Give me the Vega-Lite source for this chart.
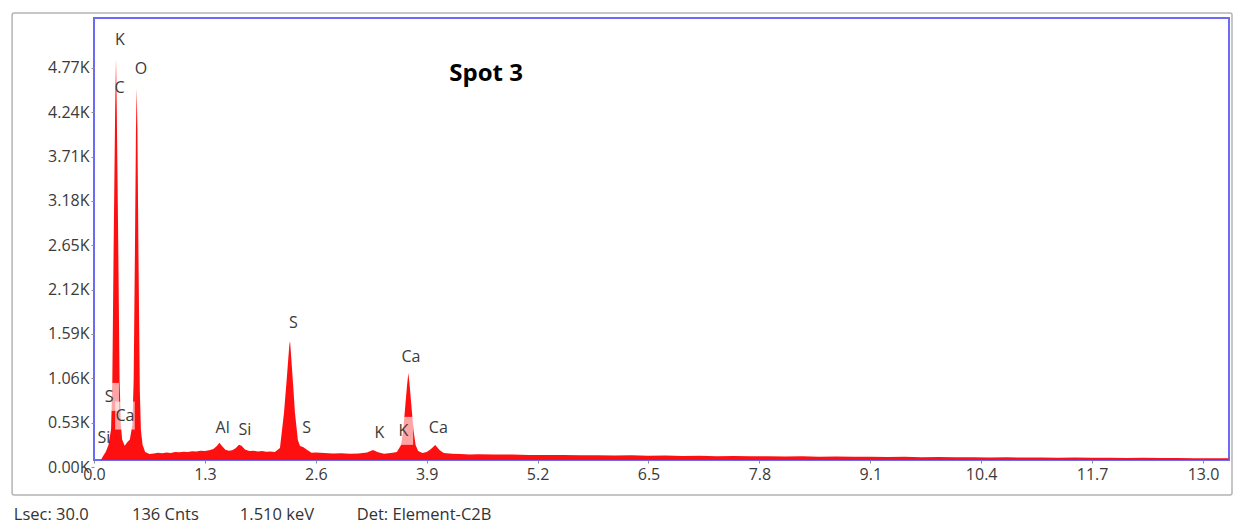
{
  "$schema": "https://vega.github.io/schema/vega-lite/v6.json",
  "autosize": "none",
  "width": 1135,
  "height": 442,
  "padding": {"left": 94, "top": 18, "right": 6, "bottom": 64},
  "background": "white",
  "config": {
    "view": {"stroke": "#6b6bf7", "strokeWidth": 2},
    "font": "Open Sans",
    "axis": {
      "labelFont": "Open Sans",
      "labelFontSize": 16,
      "labelColor": "#3a3a3a",
      "tickColor": "#8a8a8a",
      "tickSize": 3,
      "domain": false,
      "grid": false,
      "labelOverlap": false,
      "labelFlush": false
    }
  },
  "datasets": {
    "spectrum": [
      {"keV": 0.05, "cnt": 0}, {"keV": 0.07, "cnt": 60}, {"keV": 0.10, "cnt": 120},
      {"keV": 0.14, "cnt": 185}, {"keV": 0.17, "cnt": 265}, {"keV": 0.20, "cnt": 450},
      {"keV": 0.215, "cnt": 1040}, {"keV": 0.23, "cnt": 2594}, {"keV": 0.248, "cnt": 4268},
      {"keV": 0.258, "cnt": 4878}, {"keV": 0.267, "cnt": 4268}, {"keV": 0.285, "cnt": 2594},
      {"keV": 0.30, "cnt": 1040}, {"keV": 0.315, "cnt": 502}, {"keV": 0.33, "cnt": 330},
      {"keV": 0.36, "cnt": 255}, {"keV": 0.39, "cnt": 295}, {"keV": 0.42, "cnt": 330},
      {"keV": 0.45, "cnt": 502}, {"keV": 0.465, "cnt": 1040}, {"keV": 0.48, "cnt": 2594},
      {"keV": 0.492, "cnt": 4029}, {"keV": 0.50, "cnt": 4531}, {"keV": 0.509, "cnt": 4029},
      {"keV": 0.522, "cnt": 2475}, {"keV": 0.537, "cnt": 920}, {"keV": 0.55, "cnt": 442},
      {"keV": 0.57, "cnt": 263}, {"keV": 0.60, "cnt": 180}, {"keV": 0.65, "cnt": 155},
      {"keV": 0.70, "cnt": 160}, {"keV": 0.75, "cnt": 170}, {"keV": 0.80, "cnt": 165},
      {"keV": 0.85, "cnt": 172}, {"keV": 0.90, "cnt": 168}, {"keV": 0.95, "cnt": 178},
      {"keV": 1.00, "cnt": 175}, {"keV": 1.05, "cnt": 182}, {"keV": 1.10, "cnt": 178},
      {"keV": 1.15, "cnt": 188}, {"keV": 1.20, "cnt": 185}, {"keV": 1.25, "cnt": 195},
      {"keV": 1.30, "cnt": 190}, {"keV": 1.35, "cnt": 200}, {"keV": 1.40, "cnt": 215},
      {"keV": 1.44, "cnt": 250}, {"keV": 1.47, "cnt": 290}, {"keV": 1.50, "cnt": 250},
      {"keV": 1.54, "cnt": 205}, {"keV": 1.58, "cnt": 195}, {"keV": 1.62, "cnt": 200},
      {"keV": 1.66, "cnt": 225}, {"keV": 1.70, "cnt": 265}, {"keV": 1.73, "cnt": 255},
      {"keV": 1.77, "cnt": 210}, {"keV": 1.82, "cnt": 190}, {"keV": 1.87, "cnt": 195},
      {"keV": 1.92, "cnt": 185}, {"keV": 1.97, "cnt": 190}, {"keV": 2.02, "cnt": 182},
      {"keV": 2.07, "cnt": 185}, {"keV": 2.12, "cnt": 178}, {"keV": 2.18, "cnt": 227},
      {"keV": 2.227, "cnt": 646}, {"keV": 2.263, "cnt": 1100}, {"keV": 2.29, "cnt": 1460},
      {"keV": 2.298, "cnt": 1506}, {"keV": 2.31, "cnt": 1340}, {"keV": 2.333, "cnt": 1000},
      {"keV": 2.356, "cnt": 646}, {"keV": 2.39, "cnt": 323}, {"keV": 2.415, "cnt": 251},
      {"keV": 2.45, "cnt": 240}, {"keV": 2.50, "cnt": 203}, {"keV": 2.55, "cnt": 170},
      {"keV": 2.60, "cnt": 172}, {"keV": 2.70, "cnt": 166}, {"keV": 2.80, "cnt": 160},
      {"keV": 2.90, "cnt": 163}, {"keV": 3.00, "cnt": 157}, {"keV": 3.10, "cnt": 160},
      {"keV": 3.20, "cnt": 172}, {"keV": 3.27, "cnt": 203}, {"keV": 3.33, "cnt": 176},
      {"keV": 3.40, "cnt": 158}, {"keV": 3.45, "cnt": 165}, {"keV": 3.50, "cnt": 170},
      {"keV": 3.55, "cnt": 180}, {"keV": 3.60, "cnt": 263}, {"keV": 3.625, "cnt": 442},
      {"keV": 3.65, "cnt": 741}, {"keV": 3.67, "cnt": 980}, {"keV": 3.685, "cnt": 1124},
      {"keV": 3.70, "cnt": 980}, {"keV": 3.72, "cnt": 741}, {"keV": 3.745, "cnt": 442},
      {"keV": 3.77, "cnt": 263}, {"keV": 3.80, "cnt": 191}, {"keV": 3.85, "cnt": 167},
      {"keV": 3.90, "cnt": 179}, {"keV": 3.95, "cnt": 215}, {"keV": 4.00, "cnt": 263},
      {"keV": 4.05, "cnt": 203}, {"keV": 4.10, "cnt": 167}, {"keV": 4.20, "cnt": 158},
      {"keV": 4.30, "cnt": 155}, {"keV": 4.40, "cnt": 150}, {"keV": 4.50, "cnt": 152},
      {"keV": 4.70, "cnt": 148}, {"keV": 4.90, "cnt": 150}, {"keV": 5.10, "cnt": 145},
      {"keV": 5.30, "cnt": 143}, {"keV": 5.50, "cnt": 145}, {"keV": 5.70, "cnt": 140},
      {"keV": 5.90, "cnt": 142}, {"keV": 6.10, "cnt": 138}, {"keV": 6.30, "cnt": 140},
      {"keV": 6.50, "cnt": 136}, {"keV": 6.70, "cnt": 138}, {"keV": 6.90, "cnt": 133},
      {"keV": 7.10, "cnt": 135}, {"keV": 7.30, "cnt": 130}, {"keV": 7.50, "cnt": 133},
      {"keV": 7.70, "cnt": 128}, {"keV": 7.90, "cnt": 130}, {"keV": 8.10, "cnt": 126},
      {"keV": 8.30, "cnt": 128}, {"keV": 8.50, "cnt": 124}, {"keV": 8.70, "cnt": 126},
      {"keV": 8.90, "cnt": 122}, {"keV": 9.10, "cnt": 124}, {"keV": 9.30, "cnt": 120},
      {"keV": 9.50, "cnt": 122}, {"keV": 9.70, "cnt": 118}, {"keV": 9.90, "cnt": 120},
      {"keV": 10.10, "cnt": 116}, {"keV": 10.30, "cnt": 118}, {"keV": 10.50, "cnt": 115},
      {"keV": 10.70, "cnt": 116}, {"keV": 10.90, "cnt": 113}, {"keV": 11.10, "cnt": 115},
      {"keV": 11.30, "cnt": 112}, {"keV": 11.50, "cnt": 113}, {"keV": 11.70, "cnt": 110},
      {"keV": 11.90, "cnt": 112}, {"keV": 12.10, "cnt": 109}, {"keV": 12.30, "cnt": 110},
      {"keV": 12.50, "cnt": 107}, {"keV": 12.70, "cnt": 108}, {"keV": 12.90, "cnt": 105},
      {"keV": 13.10, "cnt": 106}, {"keV": 13.30, "cnt": 104}
    ],
    "peaks": [
      {"element": "K", "keV": 0.305, "cnt": 5105, "boxed": false},
      {"element": "O", "keV": 0.551, "cnt": 4760, "boxed": false},
      {"element": "C", "keV": 0.298, "cnt": 4531, "boxed": false},
      {"element": "S", "keV": 0.178, "cnt": 838, "boxed": true},
      {"element": "Ca", "keV": 0.363, "cnt": 615, "boxed": true},
      {"element": "Si", "keV": 0.117, "cnt": 347, "boxed": false},
      {"element": "Al", "keV": 1.508, "cnt": 465, "boxed": false},
      {"element": "Si", "keV": 1.770, "cnt": 443, "boxed": false},
      {"element": "S", "keV": 2.337, "cnt": 1717, "boxed": false},
      {"element": "S", "keV": 2.493, "cnt": 465, "boxed": false},
      {"element": "K", "keV": 3.345, "cnt": 402, "boxed": false},
      {"element": "K", "keV": 3.626, "cnt": 432, "boxed": true},
      {"element": "Ca", "keV": 3.716, "cnt": 1311, "boxed": false},
      {"element": "Ca", "keV": 4.036, "cnt": 465, "boxed": false}
    ],
    "footer": [
      {"item": "Lsec: 30.0", "at": -0.94},
      {"item": "136 Cnts", "at": 0.445},
      {"item": "1.510 keV", "at": 1.71},
      {"item": "Det: Element-C2B", "at": 3.08}
    ]
  },
  "encoding": {
    "x": {
      "type": "quantitative",
      "scale": {"domain": [-0.96, 13.34], "range": [-81.9, 1138.0], "nice": false, "zero": false},
      "axis": {
        "title": null,
        "values": [0, 1.3, 2.6, 3.9, 5.2, 6.5, 7.8, 9.1, 10.4, 11.7, 13.0],
        "format": ".1f",
        "labelPadding": 3
      }
    },
    "y": {
      "type": "quantitative",
      "scale": {"domain": [-700, 5440], "range": [507.56, -6.06], "nice": false, "zero": false},
      "axis": {
        "title": null,
        "values": [0, 530, 1060, 1590, 2120, 2650, 3180, 3710, 4240, 4770],
        "labelExpr": "format(datum.value / 1000, '.2f') + 'K'",
        "labelPadding": 2
      }
    }
  },
  "layer": [
    {
      "data": {"values": [{}]},
      "mark": {"type": "rect", "filled": false, "color": "#b4b4b4", "strokeWidth": 1.5, "cornerRadius": 2},
      "encoding": {
        "x": {"datum": -0.96},
        "x2": {"datum": 13.34},
        "y": {"datum": 5428},
        "y2": {"datum": -335}
      }
    },
    {
      "data": {"name": "spectrum"},
      "mark": {"type": "area", "color": "#ff1010", "clip": true, "interpolate": "linear"},
      "encoding": {
        "x": {"field": "keV"},
        "y": {"field": "cnt"}
      }
    },
    {
      "data": {"name": "peaks"},
      "transform": [{"filter": "datum.boxed"}],
      "mark": {"type": "point", "shape": "M-0.7,-1H0.7V1H-0.7Z", "size": 784, "filled": true, "color": "white", "opacity": 0.62, "strokeWidth": 0},
      "encoding": {
        "x": {"field": "keV"},
        "y": {"field": "cnt"}
      }
    },
    {
      "data": {"name": "peaks"},
      "mark": {"type": "text", "font": "Open Sans", "fontSize": 16, "color": "#3a3a3a", "align": "center", "baseline": "middle"},
      "encoding": {
        "x": {"field": "keV"},
        "y": {"field": "cnt"},
        "text": {"field": "element"}
      }
    },
    {
      "data": {"values": [{}]},
      "mark": {"type": "text", "font": "Open Sans", "fontSize": 24, "fontWeight": "bold", "color": "#000000", "align": "center", "baseline": "middle"},
      "encoding": {
        "x": {"datum": 4.596},
        "y": {"datum": 4698},
        "text": {"value": "Spot 3"}
      }
    },
    {
      "data": {"name": "footer"},
      "mark": {"type": "text", "font": "Open Sans", "fontSize": 16.5, "color": "#333333", "align": "left", "baseline": "middle"},
      "encoding": {
        "x": {"field": "at"},
        "y": {"datum": -574},
        "text": {"field": "item"}
      }
    }
  ]
}
